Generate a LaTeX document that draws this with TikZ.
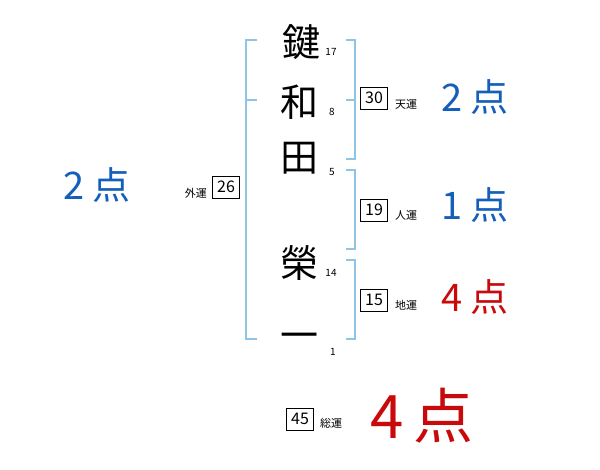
\documentclass[tikz,border=0pt]{standalone}
\usepackage{fontspec}
\newfontfamily\jpfont{Noto Sans CJK JP}
\definecolor{kakublue}{RGB}{143,196,230}
\definecolor{scoreblue}{RGB}{20,95,185}
\definecolor{scorered}{RGB}{200,10,10}

\begin{document}
\begin{tikzpicture}[x=1pt, y=-1pt,
    every node/.style={font=\jpfont, inner sep=0pt},
    kanji/.style={font=\jpfont\fontsize{38}{38}\selectfont},
    strokes/.style={font=\jpfont\fontsize{10}{10}\selectfont},
    valbox/.style={draw=black, thin, minimum width=27pt, minimum height=22pt,
                   font=\jpfont\fontsize{16}{16}\selectfont},
    kaku/.style={font=\jpfont\fontsize{11}{11}\selectfont, anchor=west},
    brk/.style={draw=kakublue, line width=1.6pt},
    score/.style={font=\jpfont\fontsize{38}{38}\selectfont, text=scoreblue},
]
    \useasboundingbox (0,0) rectangle (600,470);
    % name, one character per row
    \node[kanji] (k1) at (301,42) {鍵};
    \node[kanji] (k2) at (299,102) {和};
    \node[kanji] (k3) at (299,158) {田};
    \node[kanji] (k4) at (299,263) {榮};
    \node[kanji] (k5) at (299,341) {一};
    \node[strokes] (s1) at (331,52) {17};
    \node[strokes] (s2) at (332,112) {8};
    \node[strokes] (s3) at (332,172) {5};
    \node[strokes] (s4) at (331,273) {14};
    \node[strokes] (s5) at (333,352) {1};
    % brackets
    \draw[brk] (257,40) -- (246,40) -- (246,339) -- (257,339);
    \draw[brk] (246,100) -- (257,100);
    \draw[brk] (346,40) -- (355,40) -- (355,159) -- (346,159);
    \draw[brk] (346,100) -- (355,100);
    \draw[brk] (346,170) -- (355,170) -- (355,249) -- (346,249);
    \draw[brk] (346,260) -- (355,260) -- (355,339) -- (346,339);
    % values
    \node[valbox] (ten) at (374,98) {30};
    \node[kaku] (tenl) at (395,104) {天運};
    \node[valbox] (jin) at (374,210) {19};
    \node[kaku] (jinl) at (395,215) {人運};
    \node[valbox] (chi) at (374,300) {15};
    \node[kaku] (chil) at (395,305) {地運};
    \node[valbox] (gai) at (226,187) {26};
    \node[kaku, anchor=east] (gail) at (207,193) {外運};
    \node[valbox] (sou) at (300,419) {45};
    \node[kaku] (soul) at (320,423) {総運};
    % scores
    \node[score] (p-gai) at (97,185) {2\hspace{8pt}点};
    \node[score] (p-ten) at (475,97) {2\hspace{8pt}点};
    \node[score] (p-jin) at (475,205) {1\hspace{8pt}点};
    \node[score, text=scorered] (p-chi) at (475,297) {4\hspace{8pt}点};
    \node[score, text=scorered, font=\jpfont\fontsize{60}{60}\selectfont] (p-sou) at (422,416) {4\hspace{10pt}点};
\end{tikzpicture}
\end{document}
